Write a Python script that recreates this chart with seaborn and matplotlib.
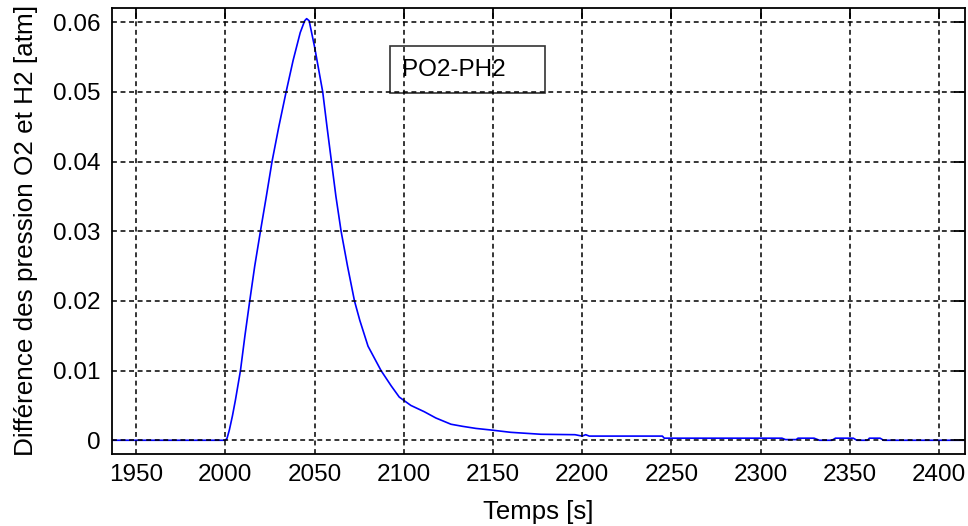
import numpy as np
import pandas as pd
import matplotlib
matplotlib.use("Agg")
import matplotlib.pyplot as plt
import seaborn as sns

# ---- data ----
temps = [1936.5, 2000, 2001, 2002.3, 2004, 2005.7, 2008.5, 2011, 2013.7, 2016.5,
         2019.7, 2023, 2026.2, 2030, 2034.1, 2038, 2042, 2044.5, 2045.6, 2047,
         2050, 2054.6, 2057, 2059.5, 2062, 2064.9, 2068.5, 2072.4, 2075.4, 2080,
         2087.3, 2093, 2097.5, 2104, 2111.5, 2118, 2126.5, 2133, 2140.5, 2149,
         2160, 2177, 2196, 2200, 2202, 2204, 2245, 2246, 2312, 2314,
         2320, 2321, 2330, 2333, 2340, 2342, 2352, 2354, 2360, 2361,
         2367, 2369, 2414.6]
dp = [0.0, 0.0, 0.0003, 0.0015, 0.0035, 0.0058, 0.0100, 0.0150, 0.0200, 0.0250,
      0.0300, 0.0350, 0.0400, 0.0450, 0.0500, 0.0545, 0.0585, 0.0602, 0.0605, 0.0602,
      0.0565, 0.0500, 0.0450, 0.0400, 0.0350, 0.0300, 0.0250, 0.0200, 0.0172, 0.0135,
      0.0100, 0.0078, 0.0062, 0.0050, 0.0041, 0.0032, 0.0023, 0.0020, 0.0017, 0.00147,
      0.00114, 0.00086, 0.0008, 0.0006, 0.0008, 0.0006, 0.0006, 0.0003, 0.0003, 0.0001,
      0.0001, 0.0003, 0.0003, 0.0, 0.0, 0.0003, 0.0003, 0.0, 0.0, 0.0003,
      0.0003, 0.0, 0.0]
series_label = "PO2-PH2"

xticks = [1950, 2000, 2050, 2100, 2150, 2200, 2250, 2300, 2350, 2400]
xtick_labels = ["1950", "2000", "2050", "2100", "2150", "2200", "2250", "2300", "2350", "2400"]
yticks = [0, 0.01, 0.02, 0.03, 0.04, 0.05, 0.06]
ytick_labels = ["0", "0.01", "0.02", "0.03", "0.04", "0.05", "0.06"]

xlabel = "Temps [s]"
ylabel = "Différence des pression O2 et H2 [atm]"

# ---- style ----
sns.set_style("white", {"axes.edgecolor": "black",
                        "xtick.direction": "in", "ytick.direction": "in"})
plt.rcParams["font.family"] = ["Liberation Sans", "DejaVu Sans"]
plt.rcParams["text.color"] = "black"
plt.rcParams["axes.labelcolor"] = "black"
plt.rcParams["xtick.color"] = "black"
plt.rcParams["ytick.color"] = "black"

fig = plt.figure(figsize=(9.68, 5.26), dpi=100)
ax = fig.add_axes([112 / 968, 1 - 454 / 526, (965 - 112) / 968, (454 - 7.5) / 526])

df = pd.DataFrame({"t": temps, "p": dp})
sns.lineplot(data=df, x="t", y="p", ax=ax, color=(0, 0, 1), linewidth=1.2,
             estimator=None, label=series_label)

ax.set_xlim(1936.5, 2414.6)
ax.set_ylim(-0.00197, 0.0621)
ax.set_xticks(xticks)
ax.set_xticklabels(xtick_labels)
ax.set_yticks(yticks)
ax.set_yticklabels(ytick_labels)

ax.grid(True, color="black", linestyle=(0, (3.2, 2.4)), linewidth=1.1)
ax.set_axisbelow(False)
for s in ax.spines.values():
    s.set_linewidth(1.3)
    s.set_color("black")

ax.tick_params(axis="both", which="major", direction="in", length=8, width=1.3,
               top=True, right=True, labelsize=17.5, pad=7, colors="black")
ax.tick_params(axis="y", pad=8)

ax.set_xlabel(xlabel, fontsize=18.5, labelpad=10)
ax.set_ylabel(ylabel, fontsize=18.8, labelpad=11)

leg = ax.legend(loc="upper left", bbox_to_anchor=(0.326, 0.913), markerfirst=False,
                handlelength=0.9, handletextpad=0.2, borderpad=0.5, borderaxespad=0,
                fontsize=17.5, frameon=True, fancybox=False)
leg.get_frame().set_facecolor("none")
leg.get_frame().set_edgecolor("black")
leg.get_frame().set_linewidth(1.2)
for h in leg.legend_handles:
    h.set_visible(False)

fig.savefig("out.png", dpi=100, facecolor="white")
